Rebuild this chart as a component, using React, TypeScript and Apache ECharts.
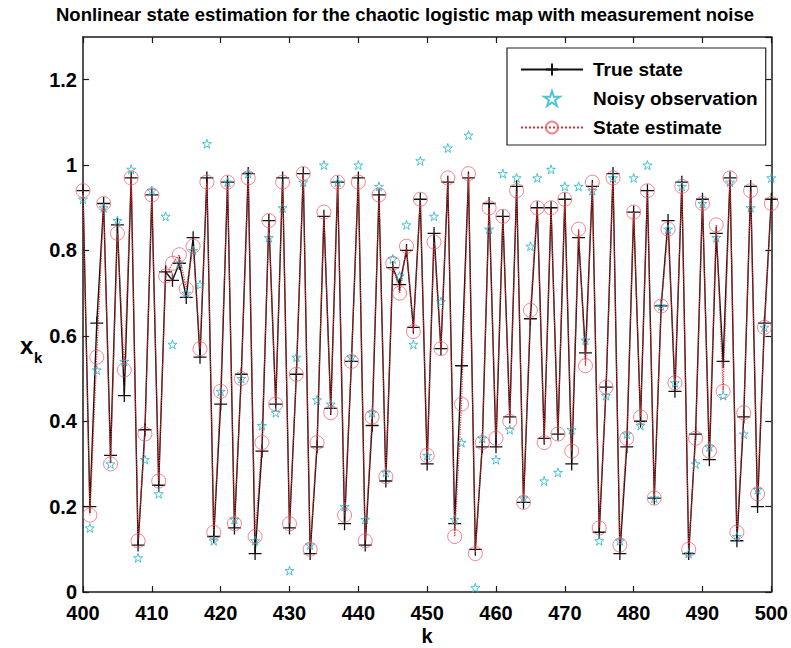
import React, { useEffect, useRef } from "react";
import * as echarts from "echarts";

const kStart = 400;
const kEnd = 500;

const trueState = [
  0.94, 0.2, 0.63, 0.91, 0.32, 0.86, 0.46, 0.97, 0.11, 0.38,
  0.93, 0.25, 0.75, 0.73, 0.77, 0.69, 0.83, 0.55, 0.97, 0.13,
  0.44, 0.96, 0.15, 0.51, 0.98, 0.09, 0.33, 0.87, 0.44, 0.97,
  0.15, 0.51, 0.98, 0.09, 0.34, 0.88, 0.43, 0.96, 0.16, 0.54,
  0.97, 0.11, 0.39, 0.93, 0.26, 0.76, 0.72, 0.8, 0.62, 0.92,
  0.3, 0.84, 0.57, 0.96, 0.16, 0.53, 0.97, 0.1, 0.34, 0.91,
  0.34, 0.88, 0.41, 0.95, 0.21, 0.64, 0.9, 0.36, 0.9, 0.37,
  0.92, 0.3, 0.83, 0.56, 0.95, 0.14, 0.48, 0.98, 0.09, 0.34,
  0.89, 0.4, 0.94, 0.22, 0.67, 0.87, 0.47, 0.96, 0.09, 0.37,
  0.92, 0.31, 0.84, 0.54, 0.97, 0.12, 0.41, 0.95, 0.2, 0.63,
  0.92,
];

const noisyObservation = [
  0.92, 0.15, 0.52, 0.9, 0.3, 0.87, 0.54, 0.99, 0.08, 0.31,
  0.94, 0.23, 0.88, 0.58, 0.77, 0.7, 0.8, 0.72, 1.05, 0.12,
  0.47, 0.96, 0.17, 0.5, 0.98, 0.12, 0.39, 0.83, 0.42, 0.9,
  0.05, 0.55, 0.96, 0.11, 0.45, 1.0, 0.44, 0.96, 0.2, 0.55,
  1.0, 0.17, 0.42, 0.95, 0.28, 0.78, 0.74, 0.86, 0.58, 1.01,
  0.32, 0.88, 0.68, 1.04, 0.17, 0.35, 1.07, 0.01, 0.36, 0.85,
  0.31, 0.98, 0.38, 0.97, 0.22, 0.81, 0.97, 0.26, 0.99, 0.28,
  0.95, 0.38, 0.95, 0.59, 0.94, 0.12, 0.46, 0.97, 0.12, 0.37,
  0.97, 0.39, 1.0, 0.22, 0.67, 0.85, 0.49, 0.95, 0.09, 0.3,
  0.91, 0.34, 0.83, 0.46, 0.96, 0.13, 0.37, 0.9, 0.24, 0.62,
  0.97,
];

const stateEstimate = [
  0.94, 0.18, 0.55, 0.91, 0.3, 0.84, 0.52, 0.97, 0.12, 0.37,
  0.93, 0.26, 0.74, 0.77, 0.79, 0.71, 0.81, 0.57, 0.96, 0.14,
  0.47, 0.96, 0.16, 0.5, 0.97, 0.13, 0.35, 0.87, 0.44, 0.96,
  0.16, 0.51, 0.98, 0.1, 0.35, 0.89, 0.42, 0.96, 0.18, 0.54,
  0.96, 0.12, 0.41, 0.93, 0.27, 0.77, 0.7, 0.81, 0.61, 0.92,
  0.32, 0.82, 0.57, 0.97, 0.13, 0.44, 0.98, 0.09, 0.35, 0.9,
  0.36, 0.88, 0.4, 0.94, 0.21, 0.66, 0.9, 0.35, 0.9, 0.37,
  0.92, 0.33, 0.85, 0.53, 0.96, 0.15, 0.48, 0.97, 0.11, 0.36,
  0.89, 0.41, 0.94, 0.22, 0.67, 0.85, 0.49, 0.95, 0.1, 0.36,
  0.91, 0.33, 0.86, 0.47, 0.97, 0.14, 0.42, 0.94, 0.23, 0.62,
  0.91,
];

const legendNames = ["True state", "Noisy observation", "State estimate"];
const titleText =
  "Nonlinear state estimation for the chaotic logistic map with measurement noise";

const FONT = "'Liberation Sans', Arial, Helvetica, sans-serif";
const PLUS = "path://M0,-1L0,1M-1,0L1,0";
const STAR =
  "path://M0,-1L0.2245,-0.309L0.951,-0.309L0.3633,0.118L0.588,0.809L0,0.382L-0.588,0.809L-0.3633,0.118L-0.951,-0.309L-0.2245,-0.309Z";

function pairs(values: number[]) {
  return values.map((v, i) => [kStart + i, v]);
}

export default function App() {
  const ref = useRef<HTMLDivElement>(null);

  useEffect(() => {
    if (!ref.current) return;
    const chart = echarts.init(ref.current, undefined, { renderer: "svg" });
    const axisLine = { onZero: false, lineStyle: { color: "#1a1a1a", width: 1.5 } };
    const axisTick = { inside: true, length: 6, lineStyle: { color: "#1a1a1a", width: 1.2 } };
    chart.setOption({
      animation: false,
      backgroundColor: "#ffffff",
      grid: { left: 83, right: 19, top: 37, bottom: 56, containLabel: false },
      graphic: [
        {
          type: "text",
          x: 405,
          y: 5,
          style: {
            text: titleText,
            align: "center",
            verticalAlign: "top",
            font: `bold 18.5px ${FONT}`,
            fill: "#000",
          },
        },
        {
          type: "text",
          x: 20,
          y: 357,
          style: { text: "x", font: `bold 24px ${FONT}`, fill: "#000", verticalAlign: "bottom" },
        },
        {
          type: "text",
          x: 34,
          y: 365,
          style: { text: "k", font: `bold 15px ${FONT}`, fill: "#000", verticalAlign: "bottom" },
        },
        {
          type: "text",
          x: 427,
          y: 626,
          style: { text: "k", font: `bold 20px ${FONT}`, fill: "#000", align: "center", verticalAlign: "top" },
        },
      ],
      legend: {
        orient: "vertical",
        left: 507,
        top: 48,
        itemWidth: 62,
        itemHeight: 15,
        itemGap: 10,
        padding: [12, 8, 8, 13],
        borderColor: "#222",
        borderWidth: 1.2,
        backgroundColor: "#fff",
        textStyle: { fontSize: 19, fontWeight: "bold", color: "#000", fontFamily: FONT, padding: [0, 0, 0, 5] },
        data: legendNames,
      },
      xAxis: [
        {
          type: "value",
          min: kStart,
          max: kEnd,
          interval: 10,
          position: "bottom",
          axisLine,
          axisTick,
          axisLabel: { color: "#000", fontSize: 20, fontWeight: "bold", fontFamily: FONT, margin: 11 },
          splitLine: { show: false },
        },
        {
          type: "value",
          min: kStart,
          max: kEnd,
          interval: 10,
          position: "top",
          axisLine,
          axisTick,
          axisLabel: { show: false },
          splitLine: { show: false },
        },
      ],
      yAxis: [
        {
          type: "value",
          min: 0,
          max: 1.3,
          interval: 0.2,
          position: "left",
          axisLine,
          axisTick,
          axisLabel: {
            color: "#000",
            fontSize: 20,
            fontWeight: "bold",
            fontFamily: FONT,
            margin: 6,
            showMaxLabel: false,
          },
          splitLine: { show: false },
        },
        {
          type: "value",
          min: 0,
          max: 1.3,
          interval: 0.2,
          position: "right",
          axisLine,
          axisTick,
          axisLabel: { show: false },
          splitLine: { show: false },
        },
      ],
      series: [
        {
          name: legendNames[0],
          type: "line",
          xAxisIndex: 0,
          yAxisIndex: 0,
          data: pairs(trueState),
          symbol: PLUS,
          symbolSize: 13,
          itemStyle: { color: "rgba(0,0,0,0)", borderColor: "#111", borderWidth: 1.3 },
          lineStyle: { color: "#111", width: 1.4 },
          z: 2,
        },
        {
          name: legendNames[1],
          type: "scatter",
          xAxisIndex: 0,
          yAxisIndex: 0,
          data: pairs(noisyObservation),
          symbol: STAR,
          symbolSize: 9,
          itemStyle: { color: "rgba(0,0,0,0)", borderColor: "#1fb5c9", borderWidth: 1 },
          z: 3,
        },
        {
          name: legendNames[2],
          type: "line",
          xAxisIndex: 0,
          yAxisIndex: 0,
          data: pairs(stateEstimate),
          symbol: "circle",
          symbolSize: 14,
          itemStyle: { color: "rgba(0,0,0,0)", borderColor: "rgba(235,80,100,0.7)", borderWidth: 1 },
          lineStyle: { color: "#f02828", width: 1.2, type: "dotted" },
          z: 4,
        },
      ],
    });
    return () => chart.dispose();
  }, []);

  return (
    <div
      ref={ref}
      style={{ position: "absolute", left: 0, top: 0, width: 791, height: 648, background: "#fff" }}
    />
  );
}
